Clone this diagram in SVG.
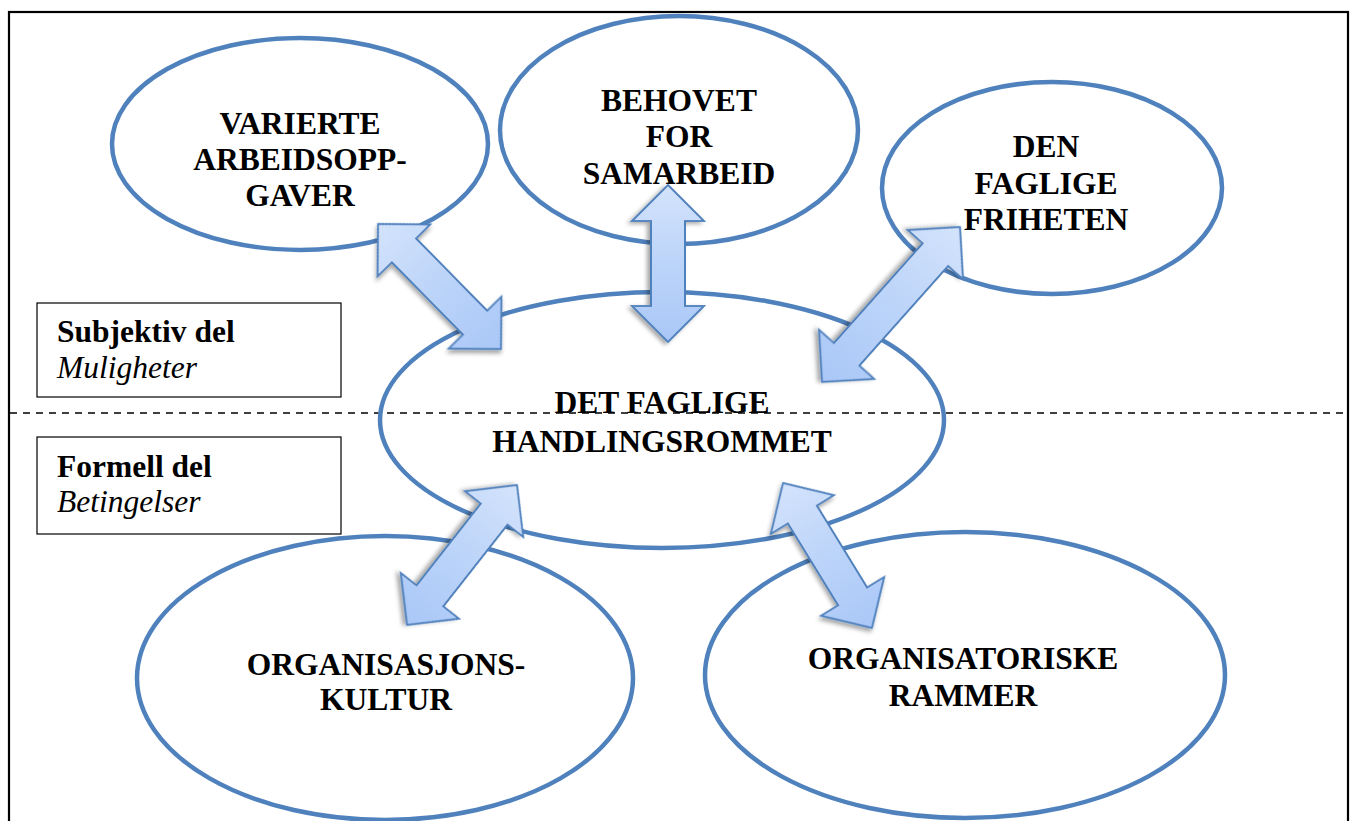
<svg xmlns="http://www.w3.org/2000/svg" width="1355" height="821" viewBox="0 0 1355 821">
<defs>
<style>
.ell{fill:none;stroke:#4F81BD;stroke-width:4.5}
.t{font-family:"Liberation Serif","Times New Roman",serif;font-weight:bold;font-size:31.5px;fill:#000;text-anchor:middle}
.lb{font-family:"Liberation Serif","Times New Roman",serif;font-weight:bold;font-size:31.5px;fill:#000}
.li{font-family:"Liberation Serif","Times New Roman",serif;font-style:italic;font-size:31.5px;fill:#000}
.box{fill:#fff;stroke:#000;stroke-width:1.2}
.arr{fill:url(#ag);stroke:#4F81BD;stroke-width:1.8;stroke-linejoin:miter;filter:url(#sh)}
</style>
<linearGradient id="ag" x1="0" y1="0" x2="1" y2="0">
<stop offset="0" stop-color="#d3e3fb"/>
<stop offset="0.5" stop-color="#bcd4f9"/>
<stop offset="1" stop-color="#a9c7f7"/>
</linearGradient>
<filter id="sh" x="-30%" y="-30%" width="160%" height="160%">
<feDropShadow dx="2" dy="3" stdDeviation="2" flood-color="#000" flood-opacity="0.35"/>
</filter>
</defs>
<rect x="9" y="12" width="1339" height="830" fill="none" stroke="#000" stroke-width="2.2"/>
<line x1="10" y1="413" x2="1347" y2="413" stroke="#000" stroke-width="1.4" stroke-dasharray="7,6"/>
<g id="legend-subjektiv">
<rect class="box" x="37" y="303" width="304" height="94"/>
<text class="lb" x="57" y="342">Subjektiv del</text>
<text class="li" x="57" y="378">Muligheter</text>
</g>
<g id="legend-formell">
<rect class="box" x="37" y="437" width="304" height="97"/>
<text class="lb" x="57" y="477">Formell del</text>
<text class="li" x="57" y="512">Betingelser</text>
</g>
<g id="node-varierte">
<ellipse class="ell" cx="300" cy="144" rx="188" ry="106"/>
<text class="t" x="300" y="134">VARIERTE</text>
<text class="t" x="300" y="170">ARBEIDSOPP-</text>
<text class="t" x="300" y="206">GAVER</text>
</g>
<g id="node-behovet">
<ellipse class="ell" cx="679" cy="130" rx="179" ry="114"/>
<text class="t" x="679" y="111">BEHOVET</text>
<text class="t" x="679" y="147">FOR</text>
<text class="t" x="679" y="184">SAMARBEID</text>
</g>
<g id="node-friheten">
<ellipse class="ell" cx="1052" cy="188" rx="170" ry="106"/>
<text class="t" x="1046" y="157">DEN</text>
<text class="t" x="1046" y="194">FAGLIGE</text>
<text class="t" x="1046" y="230">FRIHETEN</text>
</g>
<g id="node-handlingsrommet">
<ellipse class="ell" cx="662" cy="420" rx="282" ry="128"/>
<text class="t" x="662" y="413">DET FAGLIGE</text>
<text class="t" x="662" y="452">HANDLINGSROMMET</text>
</g>
<g id="node-kultur">
<ellipse class="ell" cx="385" cy="678" rx="248" ry="142"/>
<text class="t" x="386" y="675">ORGANISASJONS-</text>
<text class="t" x="386" y="710">KULTUR</text>
</g>
<g id="node-rammer">
<ellipse class="ell" cx="965" cy="675" rx="260" ry="143"/>
<text class="t" x="963" y="669">ORGANISATORISKE</text>
<text class="t" x="963" y="706">RAMMER</text>
</g>
<g id="connectors">
<polygon class="arr" transform="translate(378,224) rotate(45.47)" points="0,0 37,-37 37,-17 138.4,-17 138.4,-37 175.4,0 138.4,37 138.4,17 37,17 37,37"/>
<polygon class="arr" transform="translate(668,185) rotate(90)" points="0,0 36,-36 36,-17 121,-17 121,-36 157,0 121,36 121,17 36,17 36,36"/>
<polygon class="arr" transform="translate(960,227) rotate(131.68)" points="0,0 37,-37 37,-17 170.5,-17 170.5,-37 207.5,0 170.5,37 170.5,17 37,17 37,37"/>
<polygon class="arr" transform="translate(517,485) rotate(128.16)" points="0,0 37,-37 37,-17 141,-17 141,-37 178,0 141,37 141,17 37,17 37,37"/>
<polygon class="arr" transform="translate(783,483) rotate(58.45)" points="0,0 37,-37 37,-17 133.1,-17 133.1,-37 170.1,0 133.1,37 133.1,17 37,17 37,37"/>
</g>
</svg>
